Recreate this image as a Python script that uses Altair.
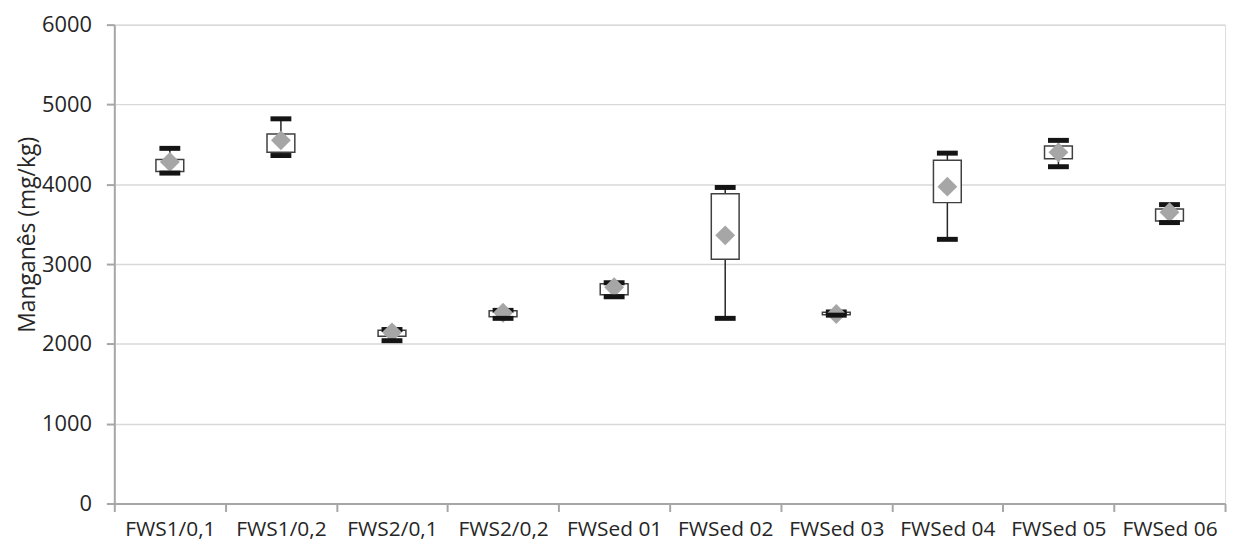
import altair as alt
import pandas as pd

sites = ["FWS1/0,1", "FWS1/0,2", "FWS2/0,1", "FWS2/0,2", "FWSed 01",
         "FWSed 02", "FWSed 03", "FWSed 04", "FWSed 05", "FWSed 06"]
mins  = [4140, 4360, 2040, 2320, 2590, 2320, 2360, 3310, 4220, 3520]
q1s   = [4160, 4400, 2095, 2340, 2615, 3060, 2365, 3770, 4320, 3540]
q3s   = [4310, 4630, 2170, 2415, 2755, 3880, 2395, 4300, 4480, 3690]
maxs  = [4450, 4820, 2180, 2420, 2765, 3960, 2400, 4390, 4550, 3745]
means = [4280, 4550, 2145, 2390, 2710, 3360, 2375, 3970, 4400, 3650]

df = pd.DataFrame({"site": sites, "min": mins, "q1": q1s, "q3": q3s,
                   "max": maxs, "mean": means})

FONT = "Open Sans"
TXT = "#262626"
AX = "#a6a6a6"

x_enc = alt.X("site:N", sort=sites,
              scale=alt.Scale(paddingInner=0, paddingOuter=0),
              axis=alt.Axis(title=None, labelAngle=0, labelFont=FONT,
                            labelFontSize=21, labelColor=TXT,
                            domainColor=AX, domainWidth=2,
                            tickColor=AX, tickWidth=2, tickSize=8,
                            tickBand="extent", labelPadding=7, grid=False))

y_axis = alt.Axis(title="Manganês (mg/kg)", values=[0, 1000, 2000, 3000, 4000, 5000, 6000],
                  format="d",
                  labelFont=FONT, labelFontSize=22, labelColor=TXT,
                  titleFont=FONT, titleFontSize=23, titleFontWeight="normal",
                  titleColor=TXT, titleAngle=-90, titleBaseline="middle",
                  titleAlign="center", titleX=-87, titleY=211,
                  domainColor=AX, domainWidth=2, tickColor=AX, tickWidth=2,
                  tickSize=8, labelPadding=15, grid=True, gridColor="#d9d9d9",
                  gridWidth=1.5)
y_scale = alt.Scale(domain=[0, 6000], nice=False, zero=True)

base = alt.Chart(df).encode(x=x_enc)

whisker = base.mark_rule(color="#262626", strokeWidth=1.5).encode(
    y=alt.Y("min:Q", scale=y_scale, axis=y_axis), y2="max:Q")

box = base.mark_bar(size=28, fill="white", stroke="#404040", strokeWidth=1.5,
                    opacity=1).encode(
    y=alt.Y("q1:Q", scale=y_scale), y2="q3:Q")

cap_max = base.mark_tick(color="#141414", size=21, thickness=5, opacity=1).encode(
    y=alt.Y("max:Q", scale=y_scale))

mean_pt = base.mark_point(shape="diamond", filled=True, size=400,
                          color="#a6a6a6", opacity=1).encode(
    y=alt.Y("mean:Q", scale=y_scale))

cap_min = base.mark_tick(color="#141414", size=21, thickness=5, opacity=1).encode(
    y=alt.Y("min:Q", scale=y_scale))

chart = alt.layer(whisker, box, cap_max, mean_pt, cap_min).properties(
    width=1118, height=482,
    autosize=alt.AutoSizeParams(type="none"),
    padding={"left": 107, "top": 15, "right": 6, "bottom": 40},
).configure_view(stroke=None).configure(background="white")

chart.save("out.html", embed_options={"renderer": "svg", "actions": False})
